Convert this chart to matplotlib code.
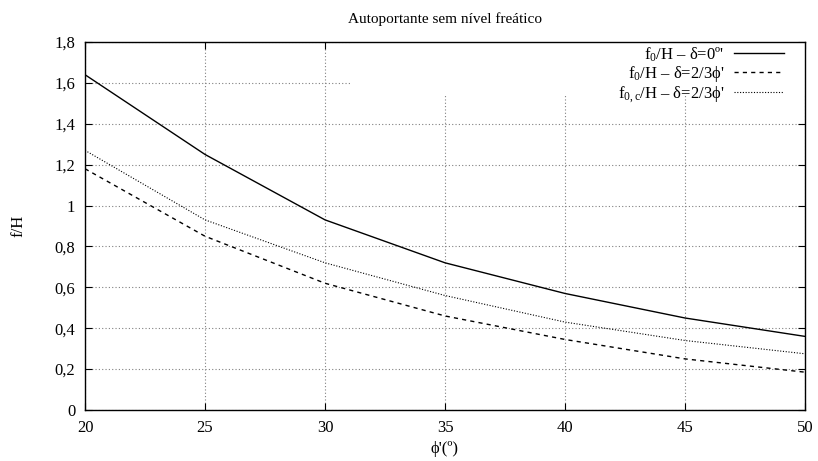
import matplotlib.pyplot as plt
from matplotlib.patches import Rectangle
from matplotlib.ticker import FuncFormatter

phi = [20, 25, 30, 35, 40, 45, 50]
f0_delta0 = [1.64, 1.25, 0.93, 0.72, 0.57, 0.45, 0.36]
f0_delta23 = [1.18, 0.85, 0.62, 0.46, 0.345, 0.25, 0.185]
f0c_delta23 = [1.27, 0.93, 0.72, 0.56, 0.43, 0.34, 0.275]

plt.rcParams.update({
    "font.family": ["Liberation Serif", "DejaVu Serif"],
    "font.size": 12,
    "mathtext.fontset": "custom",
    "mathtext.rm": "Liberation Serif",
    "mathtext.it": "Liberation Serif:italic",
})

fig = plt.figure(figsize=(8.18, 4.61), dpi=100)
ax = fig.add_axes([85 / 818, 51 / 461, 720 / 818, 368 / 461])

ax.plot(phi, f0_delta0, color="black", lw=1.0, label="f$_0$/H – δ=0º'")
ax.plot(phi, f0_delta23, color="black", lw=1.0, linestyle=(0, (3, 3)),
        label="f$_0$/H – δ=2/3ϕ'")
ax.plot(phi, f0c_delta23, color="black", lw=0.8, linestyle=(0, (1, 1.5)),
        label="f$_{\\mathrm{0,c}}$/H – δ=2/3ϕ'")

ax.set_xlim(20, 50)
ax.set_ylim(0, 1.8)
ax.set_xticks(range(20, 51, 5))
ax.set_yticks([0, 0.2, 0.4, 0.6, 0.8, 1.0, 1.2, 1.4, 1.6, 1.8])


def comma(v, pos):
    s = ("%.1f" % v).replace(".", ",")
    if s.endswith(",0"):
        s = s[:-2]
    return s


ax.yaxis.set_major_formatter(FuncFormatter(comma))
ax.tick_params(direction="in", top=True, right=True, length=5, width=0.8, labelsize=12, pad=7)
ax.grid(True, color="gray", linestyle=(0, (1, 2)), linewidth=0.8)
ax.set_axisbelow(True)
for s in ax.spines.values():
    s.set_linewidth(1.0)

# opaque key area
ax.add_patch(Rectangle((0.368, 0.853), 0.632, 0.147, transform=ax.transAxes,
                       facecolor="white", edgecolor="none", zorder=1.5))

ax.legend(loc="upper right", markerfirst=False, frameon=False, fontsize=12,
          handlelength=3.0, handletextpad=0.6, labelspacing=0.0,
          borderaxespad=0.0, borderpad=0.2, bbox_to_anchor=(0.976, 1.0))

ax.set_title("Autoportante sem nível freático", fontsize=11, pad=14)
ax.set_xlabel("ϕ'(º)", fontsize=12, labelpad=4)
ax.set_ylabel("f/H", fontsize=12, labelpad=20)

fig.savefig("out.png", dpi=100)
